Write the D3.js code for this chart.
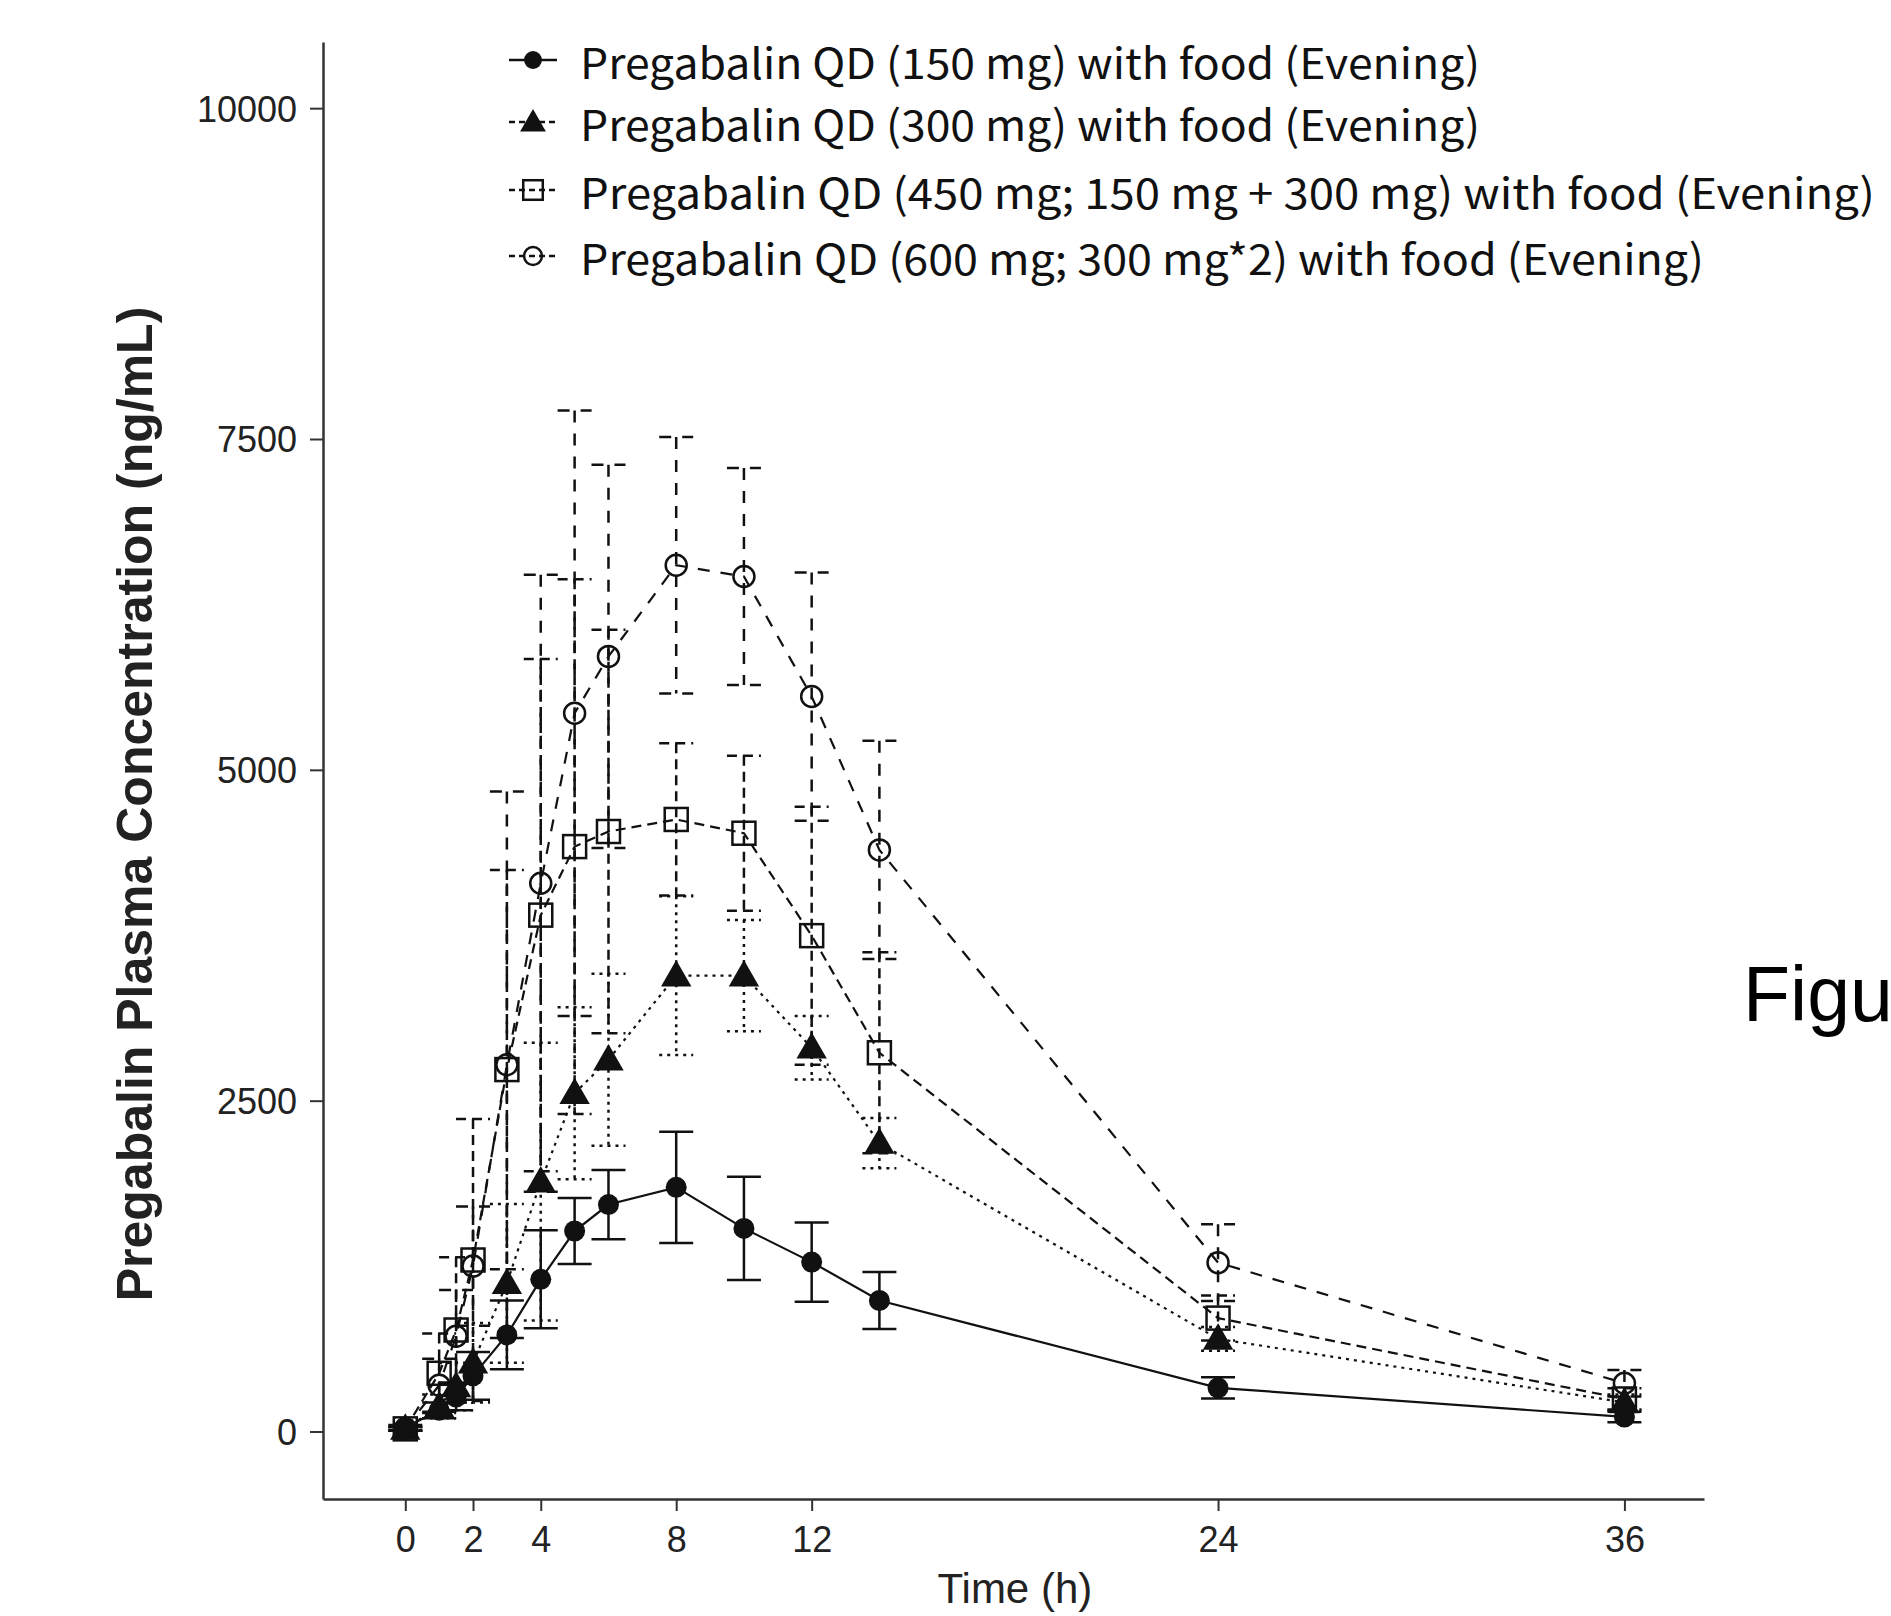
<!DOCTYPE html>
<html lang="en">
<head>
<meta charset="UTF-8">
<title>Pregabalin plasma concentration</title>
<script src="https://d3js.org/d3.v7.min.js"></script>
<style>
  body { margin: 0; background: #fff; }
  svg { display: block; }
</style>
</head>
<body>
<svg id="chart" width="1891" height="1616"></svg>
<script>
// sampling times (h)
const times = [0, 1, 1.5, 2, 3, 4, 5, 6, 8, 10, 12, 14, 24, 36];

// mean concentrations (ng/mL) and SD
const mean150 = [30, 160, 260, 420, 730, 1150, 1515, 1715, 1845, 1535, 1280, 990, 330, 110];
const sd150   = [20, 60, 100, 180, 260, 370, 250, 262, 420, 390, 300, 215, 80, 40];
const mean300 = [20, 190, 340, 520, 1120, 1888, 2556, 2810, 3445, 3445, 2900, 2180, 700, 220];
const sd300   = [15, 90, 180, 300, 600, 1050, 650, 650, 600, 420, 240, 190, 90, 60];
const mean450 = [20, 440, 767, 1296, 2735, 3902, 4420, 4534, 4625, 4521, 3747, 2862, 857, 246];
const sd450   = [15, 300, 550, 1065, 1509, 1935, 2021, 1524, 575, 585, 975, 760, 170, 80];
const mean600 = [20, 350, 720, 1250, 2771, 4143, 5428, 5857, 6546, 6461, 5554, 4395, 1276, 365];
const sd600   = [15, 200, 350, 450, 2065, 2331, 2288, 1448, 970, 820, 938, 824, 290, 100];

const legendLabels = [
  "Pregabalin QD (150 mg) with food (Evening)",
  "Pregabalin QD (300 mg) with food (Evening)",
  "Pregabalin QD (450 mg; 150 mg + 300 mg) with food (Evening)",
  "Pregabalin QD (600 mg; 300 mg*2) with food (Evening)"
];
const yTicks = [0, 2500, 5000, 7500, 10000];
const xTicks = [0, 2, 4, 8, 12, 24, 36];

const series = [
  { mean: mean150, sd: sd150, dash: null,    marker: "fcircle" },
  { mean: mean300, sd: sd300, dash: "3,5",   marker: "triangle" },
  { mean: mean450, sd: sd450, dash: "10,6",  marker: "square" },
  { mean: mean600, sd: sd600, dash: "12,11", marker: "ocircle" }
];

const svg = d3.select('#chart');
const x = d3.scaleLinear().domain([-2.43, 38.35]).range([323, 1704]);
const y = d3.scaleLinear().domain([-510, 10500]).range([1499, 42]);
const ink = '#111';
const arial = '"Liberation Sans", Arial, sans-serif';

// axes (L shaped frame like R bty="l")
const yAxis = svg.append('g')
  .attr('transform', `translate(${x.range()[0]},0)`)
  .call(d3.axisLeft(y).tickValues(yTicks).tickFormat(d3.format('d')).tickSize(13).tickSizeOuter(0).tickPadding(13));
const xAxis = svg.append('g')
  .attr('transform', `translate(0,${y.range()[0]})`)
  .call(d3.axisBottom(x).tickValues(xTicks).tickSize(12).tickSizeOuter(0).tickPadding(15));
[yAxis, xAxis].forEach(a => {
  a.select('.domain').attr('stroke', '#333').attr('stroke-width', 2.5);
  a.selectAll('.tick line').attr('stroke', '#333').attr('stroke-width', 2);
  a.selectAll('.tick text').attr('fill', '#222')
    .style('font-family', arial).style('font-size', '36px');
});
yAxis.selectAll('.tick text').attr('dy', '0.36em');

// axis titles
svg.append('text')
  .attr('transform', 'translate(135,804) rotate(-90)')
  .attr('text-anchor', 'middle').attr('dominant-baseline', 'central')
  .style('font-family', arial).style('font-size', '50px').style('font-weight', 'bold')
  .attr('fill', '#222')
  .text('Pregabalin Plasma Concentration (ng/mL)');

svg.append('text')
  .attr('x', (x(0) + x(36)) / 2).attr('y', 1603)
  .attr('text-anchor', 'middle')
  .style('font-family', arial).style('font-size', '42px')
  .attr('fill', '#222')
  .text('Time (h)');

// stray caption cut at the right edge of the image
svg.append('text')
  .attr('x', 1743).attr('y', 1021)
  .style('font-family', arial).style('font-size', '77px')
  .attr('fill', '#000')
  .text('Figure 1');

// marker drawing
function drawMarker(g, type, cx, cy, scale) {
  const s = scale || 1;
  if (type === 'fcircle') {
    g.append('circle').attr('cx', cx).attr('cy', cy).attr('r', 10.5 * s).attr('fill', ink);
  } else if (type === 'triangle') {
    g.append('path').attr('transform', `translate(${cx},${cy + 2})`)
      .attr('d', d3.symbol(d3.symbolTriangle).size(400 * s * s)()).attr('fill', ink);
  } else if (type === 'square') {
    const h = 11.5 * s;
    g.append('rect').attr('x', cx - h).attr('y', cy - h).attr('width', 2 * h).attr('height', 2 * h)
      .attr('fill', 'none').attr('stroke', ink).attr('stroke-width', 2.5);
  } else {
    g.append('circle').attr('cx', cx).attr('cy', cy).attr('r', 10.5 * s)
      .attr('fill', 'none').attr('stroke', ink).attr('stroke-width', 2.5);
  }
}

const capW = 17;
series.forEach(s => {
  const g = svg.append('g');
  const pts = times.map((t, i) => ({ t, m: s.mean[i], sd: s.sd[i] }));

  // error bars
  pts.forEach(p => {
    const bar = g.append('g').attr('stroke', ink).attr('stroke-width', 2.5).attr('fill', 'none');
    if (s.dash) bar.attr('stroke-dasharray', s.dash);
    const cx = x(p.t), top = y(p.m + p.sd), bot = y(p.m - p.sd);
    bar.append('line').attr('x1', cx).attr('x2', cx).attr('y1', top).attr('y2', bot);
    bar.append('line').attr('x1', cx - capW).attr('x2', cx + capW).attr('y1', top).attr('y2', top);
    bar.append('line').attr('x1', cx - capW).attr('x2', cx + capW).attr('y1', bot).attr('y2', bot);
  });

  // mean line
  const line = d3.line().x(d => x(d.t)).y(d => y(d.m));
  g.append('path').datum(pts)
    .attr('d', line).attr('fill', 'none').attr('stroke', ink).attr('stroke-width', 2.2)
    .attr('stroke-dasharray', s.dash);

  pts.forEach(p => drawMarker(g, s.marker, x(p.t), y(p.m)));
});

// legend
const legY = [60, 122, 190, 256];
const legW = [900, 900, 1295, 1124];   // widths of the narrow original font
const leg = svg.append('g');
series.forEach((s, i) => {
  const cy = legY[i];
  leg.append('line').attr('x1', 509).attr('x2', 557).attr('y1', cy).attr('y2', cy)
    .attr('stroke', ink).attr('stroke-width', 2.5).attr('stroke-dasharray', s.dash ? '6,4' : null);
  drawMarker(leg, s.marker, 533, cy, 0.85);
});
leg.selectAll('text.lab').data(legendLabels).join('text')
  .attr('class', 'lab')
  .attr('x', 580).attr('y', (d, i) => legY[i])
  .attr('dominant-baseline', 'central')
  .style('font-family', '"Noto Sans CJK KR", "Noto Sans", sans-serif').style('font-size', '42px')
  .attr('fill', '#111')
  .attr('textLength', (d, i) => legW[i]).attr('lengthAdjust', 'spacingAndGlyphs')
  .text(d => d);
</script>
</body>
</html>
